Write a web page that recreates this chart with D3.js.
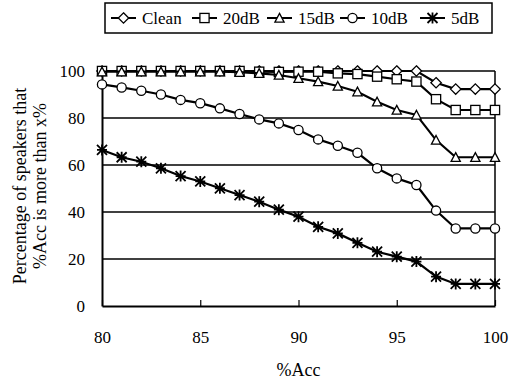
<!DOCTYPE html>
<html><head><meta charset="utf-8">
<script src="https://cdn.jsdelivr.net/npm/d3@7"></script>
<style>body{margin:0;background:#fff}svg{display:block}text{font-family:"Liberation Serif","Times New Roman",serif;fill:#000}</style>
</head><body><svg id="c" width="509" height="380"></svg>
<script>
const xValues = [80,81,82,83,84,85,86,87,88,89,90,91,92,93,94,95,96,97,98,99,100];
const clean = [100,100,100,100,100,100,100,100,100,100,100,100,100,100,100,100,100,95,92.3,92.3,92.3];
const db20 = [100,100,100,100,100,100,100,100,99.7,99.6,99.7,99.7,99,98.7,97.6,96.5,95.5,88,83.4,83.4,83.4];
const db15 = [99.7,99.7,99.7,99.7,99.7,99.7,99.7,99.5,99,98.3,96.9,95.5,93.6,91.2,86.9,83.4,81.3,70.6,63.3,63.3,63.3];
const db10 = [94.3,93,91.6,90,87.7,86.3,84.1,81.7,79.4,77.7,74.9,70.9,68.2,65.2,58.6,54.3,51.5,40.6,33,33,33];
const db5 = [66.4,63.3,61.4,58.6,55.3,53,50.1,47.2,44.4,41,38,33.7,30.9,26.9,23.1,21,18.9,12.5,9.4,9.4,9.4];
const xTicks = [80,85,90,95,100];
const yTicks = [0,20,40,60,80,100];
const seriesNames = ["Clean","20dB","15dB","10dB","5dB"];
const seriesMarkers = ["diamond","square","triangle","circle","star"];

const svg = d3.select("#c");
const x = d3.scaleLinear().domain([80,100]).range([102,495]);
const y = d3.scaleLinear().domain([0,100]).range([306,71]);

svg.append("g").selectAll("line").data(yTicks.filter(d=>d>0)).join("line")
  .attr("x1",x(80)).attr("x2",x(100)).attr("y1",d=>y(d)).attr("y2",d=>y(d))
  .attr("stroke","#000").attr("stroke-width",1.5);
svg.append("line").attr("x1",x(100)).attr("x2",x(100)).attr("y1",y(100)).attr("y2",y(0)).attr("stroke","#000").attr("stroke-width",1.5);

const xAxis = d3.axisBottom(x).tickValues(xTicks).tickSizeInner(-6).tickSizeOuter(0).tickPadding(25);
const gx = svg.append("g").attr("transform",`translate(0,${y(0)})`).call(xAxis);
gx.select(".domain").attr("stroke","#000").attr("stroke-width",2);
gx.selectAll(".tick line").attr("stroke","#000").attr("stroke-width",1.2);
gx.selectAll("text").attr("font-size",17).style("font-family","Liberation Serif");
const yAxis = d3.axisLeft(y).tickValues(yTicks).tickSize(0).tickPadding(17);
const gy = svg.append("g").attr("transform",`translate(${x(80)},0)`).call(yAxis);
gy.select(".domain").attr("stroke","#000").attr("stroke-width",2);
gy.selectAll("text").attr("font-size",17).style("font-family","Liberation Serif");

svg.append("text").attr("x",(x(80)+x(100))/2).attr("y",376).attr("text-anchor","middle").attr("font-size",18).text("%Acc");
svg.append("text").attr("transform","translate(26,186) rotate(-90)").attr("text-anchor","middle").attr("font-size",18).text("Percentage of speakers that");
svg.append("text").attr("transform","translate(46,186) rotate(-90)").attr("text-anchor","middle").attr("font-size",18).text("%Acc is more than x%");

function marker(g, type, cx, cy){
  const s = 4.6;
  if(type==="diamond") g.append("path").attr("d",`M${cx},${cy-s-0.6}L${cx+s+0.6},${cy}L${cx},${cy+s+0.6}L${cx-s-0.6},${cy}Z`).attr("fill","#fff").attr("stroke","#000").attr("stroke-width",1.3);
  else if(type==="square") g.append("rect").attr("x",cx-s).attr("y",cy-s).attr("width",2*s).attr("height",2*s).attr("fill","#fff").attr("stroke","#000").attr("stroke-width",1.3);
  else if(type==="triangle") g.append("path").attr("d",`M${cx},${cy-s}L${cx+s},${cy+s-0.5}L${cx-s},${cy+s-0.5}Z`).attr("fill","#fff").attr("stroke","#000").attr("stroke-width",1.3);
  else if(type==="circle") g.append("circle").attr("cx",cx).attr("cy",cy).attr("r",s).attr("fill","#fff").attr("stroke","#000").attr("stroke-width",1.3);
  else if(type==="star"){
    const r=5;
    g.append("path").attr("d",`M${cx-r},${cy-r}L${cx+r},${cy+r}M${cx-r},${cy+r}L${cx+r},${cy-r}M${cx},${cy-r-0.5}L${cx},${cy+r+0.5}M${cx-r},${cy}L${cx+r},${cy}`).attr("stroke","#000").attr("stroke-width",1.8);
  }
}

const allSeries = [clean, db20, db15, db10, db5];
const line = d3.line().x((d,i)=>x(xValues[i])).y(d=>y(d));
const order = [4,3,0,1,2];
order.forEach(k=>{
  const g = svg.append("g");
  g.append("path").datum(allSeries[k]).attr("d",line).attr("fill","none").attr("stroke","#000").attr("stroke-width",2.2);
  allSeries[k].forEach((v,i)=>marker(g, seriesMarkers[k], x(xValues[i]), y(v)));
});

const lg = svg.append("g");
lg.append("rect").attr("x",105).attr("y",3).attr("width",387).attr("height",30).attr("fill","#fff").attr("stroke","#000").attr("stroke-width",1.5);
const legX = [111,192,267,340,420];
seriesNames.forEach((n,k)=>{
  const lx = legX[k];
  lg.append("line").attr("x1",lx).attr("x2",lx+25).attr("y1",18).attr("y2",18).attr("stroke","#000").attr("stroke-width",2);
  marker(lg, seriesMarkers[k], lx+12.5, 18);
  lg.append("text").attr("x",lx+31).attr("y",24).attr("font-size",17).text(n);
});
</script></body></html>
